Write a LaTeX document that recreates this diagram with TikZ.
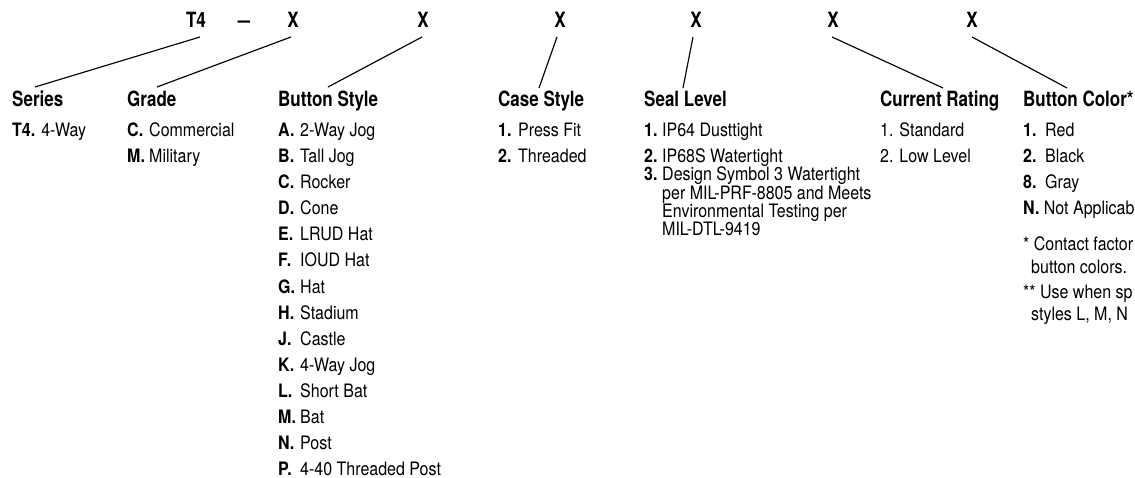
\documentclass[tikz,border=0pt]{standalone}
\usepackage{fontspec}
\setmainfont{TeX Gyre Heros}[FakeStretch=0.865]
\newfontfamily\headfont{TeX Gyre Heros}[FakeStretch=0.81]
\usetikzlibrary{calc}
\begin{document}
\begin{tikzpicture}[x=1bp,y=-1bp,
  topcode/.style={font=\headfont\bfseries\fontsize{21bp}{21bp}\selectfont, anchor=base, inner sep=0pt},
  headcol/.style={font=\headfont\bfseries\fontsize{21bp}{21bp}\selectfont, anchor=base west, inner sep=0pt},
  listcol/.style={font=\fontsize{18.5bp}{26.1bp}\selectfont, anchor=base west, inner sep=0pt},
  conn/.style={line width=1.15bp, draw=black}]
\useasboundingbox (0,0) rectangle (1135,478);

% code row
\node[topcode] (T4) at (196,28) {T4};
\node[topcode] (dash) at (244,28) {\scalebox{1.3}[1]{\textendash}};
\node[topcode] (X1) at (293,28) {X};
\node[topcode] (X2) at (423,28) {X};
\node[topcode] (X3) at (560,28) {X};
\node[topcode] (X4) at (696,28) {X};
\node[topcode] (X5) at (833,28) {X};
\node[topcode] (X6) at (972,28) {X};

% headings
\node[headcol] (Series) at (12,107) {Series};
\node[headcol] (Grade) at (127,107) {Grade};
\node[headcol] (BStyle) at (278,107) {Button Style};
\node[headcol] (CStyle) at (498,107) {Case Style};
\node[headcol] (Seal) at (644,107) {Seal Level};
\node[headcol] (Current) at (880,107) {Current Rating};
\node[headcol] (BColor) at (1023,107) {Button Color*};

% lists
\node[listcol] (SeriesL) at (12,136.5) {\textbf{T4.} 4-Way};
\node[listcol] (GradeL) at (127,136.5) {\begin{tabular}[t]{@{}p{22bp}@{}l@{}}
\textbf{C.} & Commercial\\
\textbf{M.} & Military
\end{tabular}};
\node[listcol] (BStyleL) at (278,136.5) {\begin{tabular}[t]{@{}p{22bp}@{}l@{}}
\textbf{A.} & 2-Way Jog\\
\textbf{B.} & Tall Jog\\
\textbf{C.} & Rocker\\
\textbf{D.} & Cone\\
\textbf{E.} & LRUD Hat\\
\textbf{F.} & IOUD Hat\\
\textbf{G.} & Hat\\
\textbf{H.} & Stadium\\
\textbf{J.} & Castle\\
\textbf{K.} & 4-Way Jog\\
\textbf{L.} & Short Bat\\
\textbf{M.} & Bat\\
\textbf{N.} & Post\\
\textbf{P.} & 4-40 Threaded Post
\end{tabular}};
\node[listcol] (CStyleL) at (498,136.5) {\begin{tabular}[t]{@{}p{20bp}@{}l@{}}
\textbf{1.} & Press Fit\\
\textbf{2.} & Threaded
\end{tabular}};
\node[listcol] (SealL) at (644,136.5) {\begin{tabular}[t]{@{}p{18bp}@{}l@{}}
\textbf{1.} & IP64 Dusttight\\
\textbf{2.} & IP68S Watertight\\[-7.8bp]
\textbf{3.} & Design Symbol 3 Watertight\\[-7.8bp]
 & per MIL-PRF-8805 and Meets\\[-7.8bp]
 & Environmental Testing per\\[-7.8bp]
 & MIL-DTL-9419
\end{tabular}};
\node[listcol] (CurrentL) at (880,136.5) {\begin{tabular}[t]{@{}l@{}}
1. Standard\\
2. Low Level
\end{tabular}};
\node[listcol] (BColorL) at (1023,136.5) {\begin{tabular}[t]{@{}p{22bp}@{}l@{}}
\textbf{1.} & Red\\
\textbf{2.} & Black\\
\textbf{8.} & Gray\\
\multicolumn{2}{@{}l@{}}{\textbf{N.} Not Applicab}\\[10bp]
\multicolumn{2}{@{}l@{}}{* Contact factor}\\[-3bp]
\multicolumn{2}{@{}l@{}}{\hspace*{8bp}button colors.}\\[-2bp]
\multicolumn{2}{@{}l@{}}{** Use when sp}\\[-4bp]
\multicolumn{2}{@{}l@{}}{\hspace*{8bp}styles L, M, N}
\end{tabular}};

% connectors
\draw[conn] ($(T4.base)+(4,9)$) -- ($(Series.base west)+(23,-20)$);
\draw[conn] ($(X1.base)+(-2,9)$) -- ($(Grade.base west)+(30,-20)$);
\draw[conn] ($(X2.base)+(-1,9)$) -- ($(BStyle.base west)+(50,-20)$);
\draw[conn] ($(X3.base)+(-3,9)$) -- ($(CStyle.base west)+(41,-19)$);
\draw[conn] ($(X4.base)+(-3,9)$) -- ($(Seal.base west)+(39,-19)$);
\draw[conn] ($(X5.base)+(-1,9)$) -- ($(Current.base west)+(63,-19)$);
\draw[conn] ($(X6.base)+(0,9)$) -- ($(BColor.base west)+(44,-19)$);
\end{tikzpicture}
\end{document}
